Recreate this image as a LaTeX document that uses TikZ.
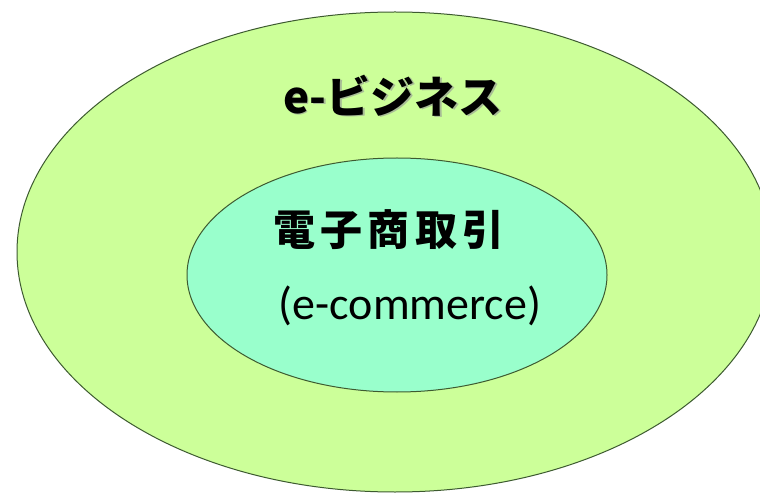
\documentclass[tikz,border=0pt]{standalone}
\usepackage{fontspec}
\setmainfont{Carlito}
\newfontfamily\jp{Noto Sans CJK JP}
\usetikzlibrary{shapes.geometric}
\definecolor{outerfill}{HTML}{CCFF99}
\definecolor{innerfill}{HTML}{99FFCC}
\definecolor{edgecol}{HTML}{3D5A30}
\definecolor{shadowcol}{HTML}{A8BC96}
\newcommand{\shadowed}[1]{\makebox[0pt][l]{\kern1.5pt\raisebox{-1.5pt}{\textcolor{shadowcol}{#1}}}#1}
\begin{document}
\begin{tikzpicture}[x=1pt,y=-1pt,
  region/.style={ellipse, draw=edgecol, line width=1pt, inner sep=0pt},
  title/.style={font=\jp\bfseries\fontsize{44}{48}\selectfont, text=black, inner sep=0pt},
  subtitle/.style={font=\jp\bfseries\fontsize{42}{46}\selectfont, inner sep=0pt},
  latin/.style={font=\fontsize{46}{52}\selectfont, inner sep=0pt}]
\useasboundingbox (0,0) rectangle (760,494);
\clip (0,0) rectangle (760,494);
\fill[white] (0,0) rectangle (760,494);
\node[region, fill=outerfill, minimum width=756pt, minimum height=480pt] (outer) at (395,252) {};
\node[region, fill=innerfill, minimum width=420pt, minimum height=234pt] (inner) at (397,275) {};
\node[title] (title) at (393,96) {\shadowed{e-ビジネス}};
\node[subtitle] (ec) at (389,230) {電\kern5.5pt 子\kern5.5pt 商\kern5.5pt 取\kern5.5pt 引};
\node[latin] (ecen) at (410,306) {(e-commerce)};
\end{tikzpicture}
\end{document}
